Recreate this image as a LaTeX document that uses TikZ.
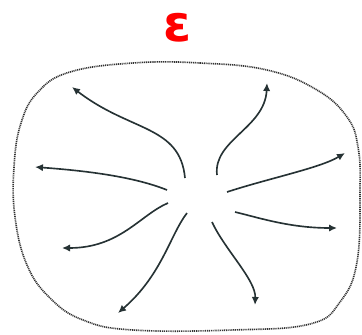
\documentclass[tikz,border=0pt]{standalone}
\usepackage{xcolor}
\usepackage{fontspec}
\newfontfamily\greekfont{DejaVu Sans}
\usepackage{tikz}
\usetikzlibrary{arrows.meta, calc}

\definecolor{inkgray}{RGB}{38,50,52}
\definecolor{rimgray}{RGB}{50,50,50}

\begin{document}
\begin{tikzpicture}[
    x=0.03cm, y=-0.03cm,
    rim/.style={rimgray, line width=1.4pt, dash pattern=on 0.9pt off 0.7pt},
    flowline/.style={inkgray, line width=1.4pt, -{Latex[length=2.4mm, width=2.2mm]}},
    symlabel/.style={font=\greekfont\bfseries\fontsize{43}{43}\selectfont, text=red}
]

% 画布大小
\useasboundingbox (0,0) rectangle (362,335);

% 符号
\node[symlabel] (eps) at (178,28) {ε};

% 外边界（虚点线）
\draw[rim] plot[smooth cycle, tension=0.7] coordinates {
    (133,63) (200,63) (267,70) (317,90) (347,117) (358,147) (360,190)
    (357,262) (340,302) (310,324) (233,330) (133,330) (83,320) (50,298)
    (27,265) (15,217) (14,167) (21,123) (38,92) (70,72)};

% 箭头的起点与终点
\coordinate (s1) at (185,178); \coordinate (t1) at (72,87);
\coordinate (s2) at (167,190); \coordinate (t2) at (35,167);
\coordinate (s3) at (168,203); \coordinate (t3) at (62,248);
\coordinate (s4) at (187,213); \coordinate (t4) at (118,313);
\coordinate (s5) at (212,222); \coordinate (t5) at (255,305);
\coordinate (s6) at (235,212); \coordinate (t6) at (337,228);
\coordinate (s7) at (227,192); \coordinate (t7) at (345,153);
\coordinate (s8) at (217,175); \coordinate (t8) at (267,83);

% 向外发散的箭头
\draw[flowline] (s1) .. controls (180,125) and (130,132) .. (t1);
\draw[flowline] (s2) .. controls (130,175) and (75,170) .. (t2);
\draw[flowline] (s3) .. controls (140,215) and (120,248) .. (t3);
\draw[flowline] (s4) .. controls (170,235) and (162,275) .. (t4);
\draw[flowline] (s5) .. controls (225,250) and (256,280) .. (t5);
\draw[flowline] (s6) .. controls (260,218) and (290,228) .. (t6);
\draw[flowline] (s7) .. controls (270,178) and (320,168) .. (t7);
\draw[flowline] (s8) .. controls (213,140) and (265,128) .. (t8);

\end{tikzpicture}
\end{document}
